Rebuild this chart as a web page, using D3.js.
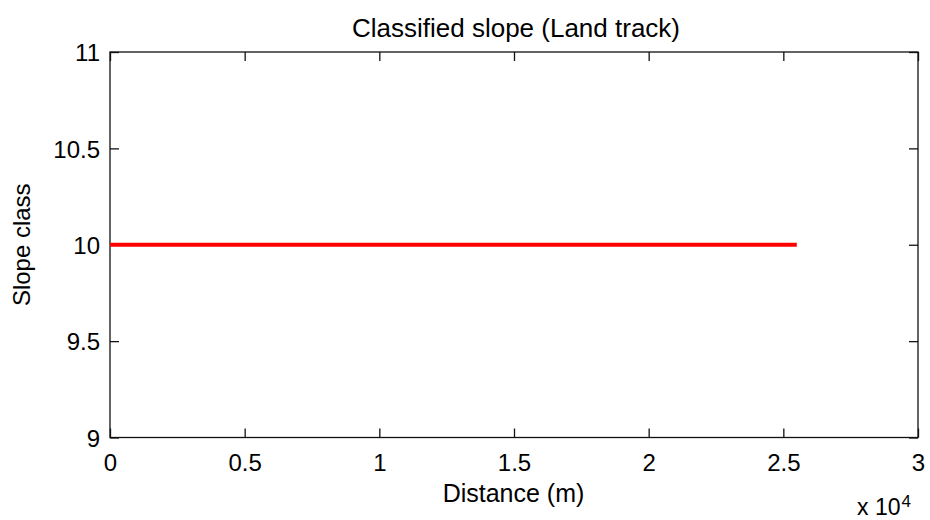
<!DOCTYPE html>
<html><head><meta charset="utf-8">
<script src="https://cdn.jsdelivr.net/npm/d3@7"></script>
<style>body{margin:0;background:#fff}svg{display:block;font-family:"Liberation Sans",Arial,sans-serif}</style>
</head><body>
<svg id="c" width="930" height="520"></svg>
<script>
const title = "Classified slope (Land track)";
const xLabel = "Distance (m)";
const yLabel = "Slope class";
const distance = [0, 9430, 18860, 25500];
const slopeClass = [10, 10, 10, 10];
const xTicks = [0, 5000, 10000, 15000, 20000, 25000, 30000];
const xTickLabels = ["0", "0.5", "1", "1.5", "2", "2.5", "3"];
const yTicks = [9, 9.5, 10, 10.5, 11];
const yTickLabels = ["9", "9.5", "10", "10.5", "11"];

const svg = d3.select("#c");
const L = 110, R = 918, T = 52, B = 437.5;
const x = d3.scaleLinear().domain([0, 30000]).range([L, R]);
const y = d3.scaleLinear().domain([9, 11]).range([B, T]);
const tl = 9;
const FF = "Liberation Sans, Arial, sans-serif";

// frame
svg.append("rect").attr("x", L).attr("y", T).attr("width", R - L).attr("height", B - T)
  .attr("fill", "none").attr("stroke", "#111").attr("stroke-width", 1.3);

const xb = svg.append("g").attr("transform", `translate(0,${B})`)
  .call(d3.axisBottom(x).tickValues(xTicks).tickSizeInner(-tl).tickSizeOuter(0).tickPadding(16)
    .tickFormat((d, i) => xTickLabels[i]));
const xt = svg.append("g").attr("transform", `translate(0,${T})`)
  .call(d3.axisTop(x).tickValues(xTicks).tickSizeInner(-tl).tickSizeOuter(0).tickFormat(""));
const yl = svg.append("g").attr("transform", `translate(${L},0)`)
  .call(d3.axisLeft(y).tickValues(yTicks).tickSizeInner(-tl).tickSizeOuter(0).tickPadding(10)
    .tickFormat((d, i) => yTickLabels[i]));
const yr = svg.append("g").attr("transform", `translate(${R},0)`)
  .call(d3.axisRight(y).tickValues(yTicks).tickSizeInner(-tl).tickSizeOuter(0).tickFormat(""));
[xb, xt, yl, yr].forEach(g => {
  g.attr("font-size", null).attr("font-family", null);
  g.select(".domain").remove();
  g.selectAll(".tick line").attr("stroke", "#111").attr("stroke-width", 1.3);
  g.selectAll("text").attr("font-size", "24px").attr("fill", "#000").attr("font-family", FF);
});
yl.selectAll("text").attr("dy", "0.36em");

// line
svg.append("path")
  .datum(distance.map((d, i) => [d, slopeClass[i]]))
  .attr("fill", "none").attr("stroke", "#ff0000").attr("stroke-width", 4)
  .attr("d", d3.line().x(d => x(d[0])).y(d => y(d[1])));

// labels
svg.append("text").attr("x", 516).attr("y", 37).attr("text-anchor", "middle")
  .attr("font-family", FF).attr("font-size", "26px").text(title);
svg.append("text").attr("x", 513.5).attr("y", 502).attr("text-anchor", "middle")
  .attr("font-family", FF).attr("font-size", "25px").text(xLabel);
svg.append("text").attr("transform", `translate(30,${(T + B) / 2}) rotate(-90)`).attr("text-anchor", "middle")
  .attr("font-family", FF).attr("font-size", "24px").text(yLabel);
const ex = svg.append("text").attr("x", 857).attr("y", 515).attr("font-family", FF).attr("font-size", "23px");
ex.append("tspan").text("x 10");
ex.append("tspan").attr("font-size", "17px").attr("dy", -8).attr("dx", 1).text("4");
</script>
</body></html>
